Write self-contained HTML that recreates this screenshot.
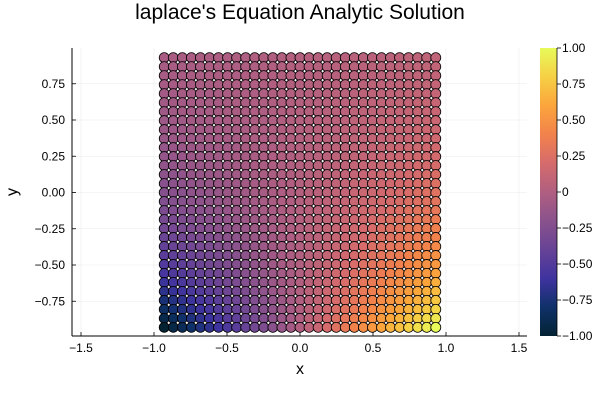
<!DOCTYPE html>
<html><head><meta charset="utf-8"><style>
body{margin:0;background:#fff;}
svg text{font-family:"Liberation Sans","DejaVu Sans",sans-serif;fill:#000;}
</style></head><body>
<svg id="chart" width="600" height="400" viewBox="0 0 600 400" xmlns="http://www.w3.org/2000/svg">
<defs>
<linearGradient id="thermal" x1="0" y1="1" x2="0" y2="0">
<stop offset="0" stop-color="#032333"/><stop offset="0.1" stop-color="#0f3169"/>
<stop offset="0.2" stop-color="#3f339f"/><stop offset="0.3" stop-color="#674396"/>
<stop offset="0.4" stop-color="#8a528c"/><stop offset="0.5" stop-color="#b05f81"/>
<stop offset="0.6" stop-color="#d56b6c"/><stop offset="0.7" stop-color="#f2824c"/>
<stop offset="0.8" stop-color="#fba53c"/><stop offset="0.9" stop-color="#f6d045"/>
<stop offset="1" stop-color="#e7fa5a"/>
</linearGradient>
</defs>
<text x="300" y="19" font-size="21" text-anchor="middle">laplace's Equation Analytic Solution</text>
<g id="grid"></g>
<g id="points"></g>
<g id="axes"></g>
<text x="300" y="374" font-size="16" text-anchor="middle">x</text>
<text x="17" y="192" font-size="16" text-anchor="middle" transform="rotate(-90 17 192)">y</text>
<rect x="540" y="48" width="17" height="288" fill="url(#thermal)"/>
<g id="cbar"></g>
</svg>
<script>
const xTicks=[-1.5,-1.0,-0.5,0.0,0.5,1.0,1.5];
const xTickLabels=["−1.5","−1.0","−0.5","0.0","0.5","1.0","1.5"];
const yTicks=[-0.75,-0.5,-0.25,0,0.25,0.5,0.75];
const yTickLabels=["−0.75","−0.50","−0.25","0.00","0.25","0.50","0.75"];
const cTicks=[-1,-0.75,-0.5,-0.25,0,0.25,0.5,0.75,1];
const cTickLabels=["−1.00","−0.75","−0.50","−0.25","0","0.25","0.50","0.75","1.00"];
const xs=[-0.93,-0.868,-0.806,-0.744,-0.682,-0.62,-0.558,-0.496,-0.434,-0.372,-0.31,-0.248,-0.186,-0.124,-0.062,0,0.062,0.124,0.186,0.248,0.31,0.372,0.434,0.496,0.558,0.62,0.682,0.744,0.806,0.868,0.93];
const ys=[0.93,0.868,0.806,0.744,0.682,0.62,0.558,0.496,0.434,0.372,0.31,0.248,0.186,0.124,0.062,0,-0.062,-0.124,-0.186,-0.248,-0.31,-0.372,-0.434,-0.496,-0.558,-0.62,-0.682,-0.744,-0.806,-0.868,-0.93];
const rowOffset=[0.02,0.02,0.02,0.02,0.02,0.02,0.02,0.02,0.02,0.02,0.02,0.02,0.02,0.02,0.02,0.02,0.02,0.02,0.02,0.02,0.01,0.01,0.01,0.01,0.01,0.01,0.01,0,0,0,0];
const rowAmplitude=[0.06,0.07,0.07,0.08,0.09,0.10,0.11,0.12,0.13,0.14,0.16,0.17,0.19,0.21,0.23,0.25,0.27,0.30,0.33,0.36,0.39,0.43,0.48,0.52,0.57,0.63,0.69,0.76,0.83,0.91,1.00];
const colProfile=[-1,-0.93,-0.87,-0.8,-0.73,-0.67,-0.6,-0.53,-0.47,-0.4,-0.33,-0.27,-0.2,-0.13,-0.07,0,0.07,0.13,0.2,0.27,0.33,0.4,0.47,0.53,0.6,0.67,0.73,0.8,0.87,0.93,1];

const NS="http://www.w3.org/2000/svg";
const X0=72,X1=527,Y0=48,Y1=336;
const sx=v=>300+146*v, sy=v=>192.5-145*v;
const stops=["#032333","#0f3169","#3f339f","#674396","#8a528c","#b05f81","#d56b6c","#f2824c","#fba53c","#f6d045","#e7fa5a"];
function hex(h){return [1,3,5].map(i=>parseInt(h.substr(i,2),16));}
function cmap(v){let t=Math.max(0,Math.min(1,(v+1)/2))*10;let i=Math.min(9,Math.floor(t));let f=t-i;
 const a=hex(stops[i]),b=hex(stops[i+1]);return "rgb("+a.map((c,k)=>Math.round(c+(b[k]-c)*f)).join(",")+")";}
function mk(tag,attrs,parent){const e=document.createElementNS(NS,tag);for(const k in attrs)e.setAttribute(k,attrs[k]);parent.appendChild(e);return e;}
const grid=document.getElementById('grid'),axes=document.getElementById('axes'),pts=document.getElementById('points'),cbar=document.getElementById('cbar');
xTicks.forEach((t,i)=>{
 const g=mk('line',{x1:sx(t),x2:sx(t),y1:Y0,y2:Y1,stroke:'#000','stroke-opacity':0.08,'stroke-width':0.6},grid);
 
 
 const tk=mk('line',{x1:sx(t),x2:sx(t),y1:Y1,y2:Y1-4,stroke:'#000','stroke-width':0.8},axes);
 
 
 const tx=mk('text',{x:sx(t),y:Y1+16,'font-size':12,'text-anchor':'middle'},axes);tx.textContent=xTickLabels[i];
 
 
});
yTicks.forEach((t,i)=>{
 const g=mk('line',{x1:X0,x2:X1,y1:sy(t),y2:sy(t),stroke:'#000','stroke-opacity':0.08,'stroke-width':0.6},grid);
 
 
 const tk=mk('line',{x1:X0,x2:X0+4,y1:sy(t),y2:sy(t),stroke:'#000','stroke-width':0.8},axes);
 
 
 const tx=mk('text',{x:X0-7,y:sy(t)+4,'font-size':12,'text-anchor':'end'},axes);tx.textContent=yTickLabels[i];
 
 
});
const ax1=mk('line',{x1:X0,x2:X0,y1:Y0,y2:Y1,stroke:'#000','stroke-width':1},axes);


const ax2=mk('line',{x1:X0,x2:X1,y1:Y1,y2:Y1,stroke:'#000','stroke-width':1},axes);


ys.forEach((yv,r)=>{xs.forEach((xv,c)=>{
 const val=rowOffset[r]+rowAmplitude[r]*colProfile[c];
 const p=mk('circle',{cx:sx(xv),cy:sy(yv),r:5,fill:cmap(val),stroke:'#000','stroke-width':0.8},pts);
 
 
});});
const cy=v=>336-(v+1)/2*288;
const cl=mk('line',{x1:557,x2:557,y1:48,y2:336,stroke:'#000','stroke-width':0.8},cbar);


cTicks.forEach((t,i)=>{
 const tk=mk('line',{x1:557,x2:561,y1:cy(t),y2:cy(t),stroke:'#000','stroke-width':0.8},cbar);
 
 
 const tx=mk('text',{x:562,y:cy(t)+4,'font-size':12},cbar);tx.textContent=cTickLabels[i];
 
 
});
</script>
</body></html>
